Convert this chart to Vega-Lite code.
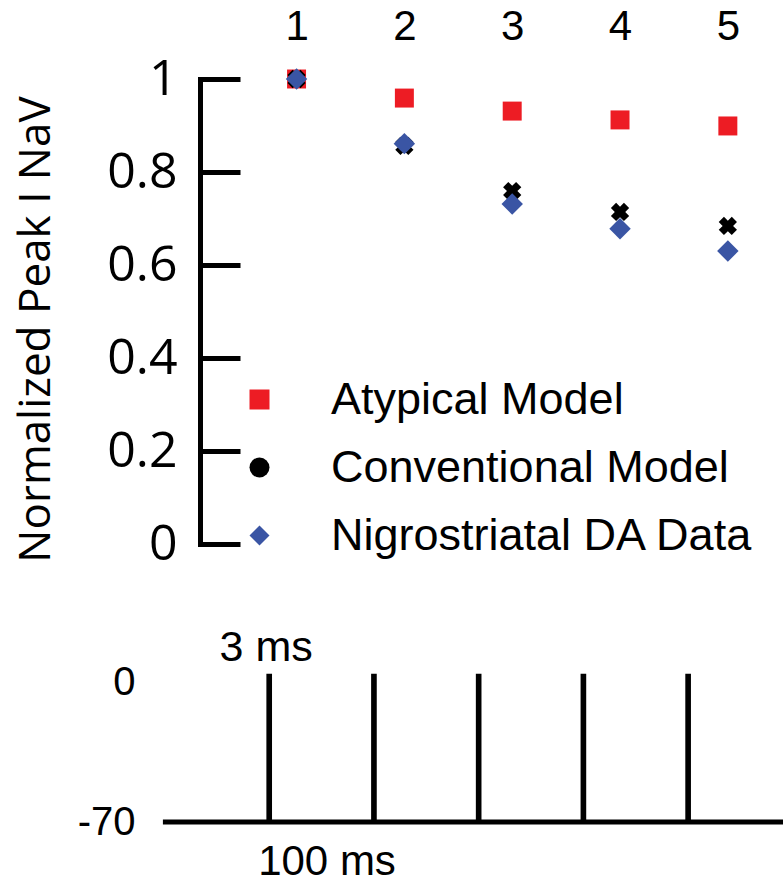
{
  "$schema": "https://vega.github.io/schema/vega-lite/v6.json",
  "autosize": {"type": "pad"},
  "padding": {"left": 13, "top": 5, "right": 0, "bottom": 0},
  "background": "white",
  "bounds": "flush",
  "spacing": 131,
  "config": {"view": {"stroke": null}},
  "datasets": {
    "peak": [
      {"pulse": 1, "series": "Atypical Model", "value": 1.0},
      {"pulse": 2, "series": "Atypical Model", "value": 0.959},
      {"pulse": 3, "series": "Atypical Model", "value": 0.931},
      {"pulse": 4, "series": "Atypical Model", "value": 0.912},
      {"pulse": 5, "series": "Atypical Model", "value": 0.899},
      {"pulse": 1, "series": "Conventional Model", "value": 1.0},
      {"pulse": 2, "series": "Conventional Model", "value": 0.856},
      {"pulse": 3, "series": "Conventional Model", "value": 0.759},
      {"pulse": 4, "series": "Conventional Model", "value": 0.714},
      {"pulse": 5, "series": "Conventional Model", "value": 0.684},
      {"pulse": 1, "series": "Nigrostriatal DA Data", "value": 1.0},
      {"pulse": 2, "series": "Nigrostriatal DA Data", "value": 0.861},
      {"pulse": 3, "series": "Nigrostriatal DA Data", "value": 0.731},
      {"pulse": 4, "series": "Nigrostriatal DA Data", "value": 0.678},
      {"pulse": 5, "series": "Nigrostriatal DA Data", "value": 0.63}
    ],
    "baseline": [{"t": -100, "t_end": 494, "v": -70}],
    "pulses": [
      {"t": 0, "t_end": 3, "v_rest": -70, "v_step": 0},
      {"t": 100, "t_end": 103, "v_rest": -70, "v_step": 0},
      {"t": 200, "t_end": 203, "v_rest": -70, "v_step": 0},
      {"t": 300, "t_end": 303, "v_rest": -70, "v_step": 0},
      {"t": 400, "t_end": 403, "v_rest": -70, "v_step": 0}
    ],
    "notes": [
      {"label": "3 ms", "t": 1.5, "v": 0},
      {"label": "100 ms", "t": 50, "v": -70}
    ]
  },
  "vconcat": [
    {
      "width": 620,
      "height": 465,
      "data": {"name": "peak"},
      "encoding": {
        "x": {
          "field": "pulse", "type": "quantitative",
          "scale": {"domain": [-0.22, 5.53], "nice": false, "zero": false},
          "axis": {"orient": "top", "values": [1, 2, 3, 4, 5], "format": "d", "ticks": false, "domain": false, "grid": false,
            "labelFont": "Liberation Sans", "labelFontSize": 42, "labelColor": "black", "labelPadding": 31,
            "labelFlush": false, "labelOverlap": false, "title": null}
        },
        "y": {
          "field": "value", "type": "quantitative",
          "scale": {"domain": [0, 1], "nice": false},
          "axis": {"orient": "left", "offset": -35, "values": [0, 0.2, 0.4, 0.6, 0.8, 1], "format": "~g",
            "tickSize": -40, "tickWidth": 5, "tickColor": "black", "tickCap": "butt",
            "domainColor": "black", "domainWidth": 5, "domainCap": "square",
            "labelFont": "Open Sans", "labelFontSize": 50, "labelColor": "black", "labelPadding": 63,
            "labelFlush": false, "labelOverlap": false, "grid": false,
            "title": "Normalized Peak I NaV", "titleFont": "Open Sans", "titleFontSize": 44, "titleFontWeight": "normal",
            "titleColor": "black", "titleX": -164, "titleY": 250, "titleAngle": -90, "titleBaseline": "middle", "titleAlign": "center"}
        }
      },
      "layer": [
        {
          "transform": [{"filter": "datum.series === 'Atypical Model'"}],
          "mark": {"type": "point", "filled": true, "opacity": 1, "size": 360},
          "encoding": {
            "color": {"field": "series", "type": "nominal",
              "scale": {"domain": ["Atypical Model", "Conventional Model", "Nigrostriatal DA Data"], "range": ["#ED1C24", "#000000", "#3A55A4"]},
              "legend": {"orient": "none", "legendX": 72, "legendY": 298, "title": null, "padding": 0,
                "labelFont": "Liberation Sans", "labelFontSize": 45, "labelColor": "black", "labelLimit": 1000,
                "symbolSize": 400, "labelOffset": 49, "rowPadding": 22, "symbolOpacity": 1, "symbolStrokeWidth": 0}},
            "shape": {"field": "series", "type": "nominal",
              "scale": {"domain": ["Atypical Model", "Conventional Model", "Nigrostriatal DA Data"], "range": ["square", "circle", "diamond"]},
              "legend": {"orient": "none", "legendX": 72, "legendY": 298, "title": null, "padding": 0,
                "labelFont": "Liberation Sans", "labelFontSize": 45, "labelColor": "black", "labelLimit": 1000,
                "symbolSize": 400, "labelOffset": 49, "rowPadding": 22, "symbolOpacity": 1, "symbolStrokeWidth": 0}}
          }
        },
        {
          "transform": [{"filter": "datum.series === 'Conventional Model'"}],
          "mark": {"type": "point", "shape": "cross", "angle": 45, "filled": true, "color": "black", "opacity": 1, "size": 340}
        },
        {
          "transform": [{"filter": "datum.series === 'Nigrostriatal DA Data'"}],
          "mark": {"type": "point", "filled": true, "opacity": 1, "size": 460},
          "encoding": {
            "color": {"field": "series", "type": "nominal",
              "scale": {"domain": ["Atypical Model", "Conventional Model", "Nigrostriatal DA Data"], "range": ["#ED1C24", "#000000", "#3A55A4"]}},
            "shape": {"field": "series", "type": "nominal",
              "scale": {"domain": ["Atypical Model", "Conventional Model", "Nigrostriatal DA Data"], "range": ["square", "circle", "diamond"]}}
          }
        }
      ]
    },
    {
      "width": 620,
      "height": 147,
      "layer": [
        {
          "data": {"name": "baseline"},
          "mark": {"type": "rule", "strokeWidth": 5, "color": "black", "strokeCap": "butt"},
          "encoding": {
            "x": {"field": "t", "type": "quantitative", "scale": {"domain": [-98, 494], "nice": false, "zero": false}, "axis": null},
            "x2": {"field": "t_end"},
            "y": {"field": "v", "type": "quantitative", "scale": {"domain": [-70, 0], "nice": false},
              "axis": {"orient": "left", "values": [0, -70], "domain": false, "ticks": false, "grid": false,
                "labelExpr": "replace(datum.label, '\u2212', '-')",
                "labelOffset": {"condition": {"test": "datum.value === 0", "value": 7}, "value": 0},
                "labelFont": "Liberation Sans", "labelFontSize": 40, "labelColor": "black", "labelPadding": 30,
                "labelFlush": false, "labelOverlap": false, "title": null}}
          }
        },
        {
          "data": {"name": "pulses"},
          "mark": {"type": "rect", "color": "black", "stroke": "black", "strokeWidth": 2.5},
          "encoding": {
            "x": {"field": "t", "type": "quantitative"},
            "x2": {"field": "t_end"},
            "y": {"field": "v_rest", "type": "quantitative"},
            "y2": {"field": "v_step"}
          }
        },
        {
          "data": {"name": "notes"},
          "transform": [{"filter": "datum.label === '3 ms'"}],
          "mark": {"type": "text", "font": "Liberation Sans", "fontSize": 43, "color": "black", "align": "center", "baseline": "middle", "dx": -3, "dy": -27},
          "encoding": {
            "x": {"field": "t", "type": "quantitative"},
            "y": {"field": "v", "type": "quantitative"},
            "text": {"field": "label"}
          }
        },
        {
          "data": {"name": "notes"},
          "transform": [{"filter": "datum.label === '100 ms'"}],
          "mark": {"type": "text", "font": "Liberation Sans", "fontSize": 42, "color": "black", "align": "center", "baseline": "middle", "dx": 7, "dy": 40},
          "encoding": {
            "x": {"field": "t", "type": "quantitative"},
            "y": {"field": "v", "type": "quantitative"},
            "text": {"field": "label"}
          }
        }
      ]
    }
  ]
}
